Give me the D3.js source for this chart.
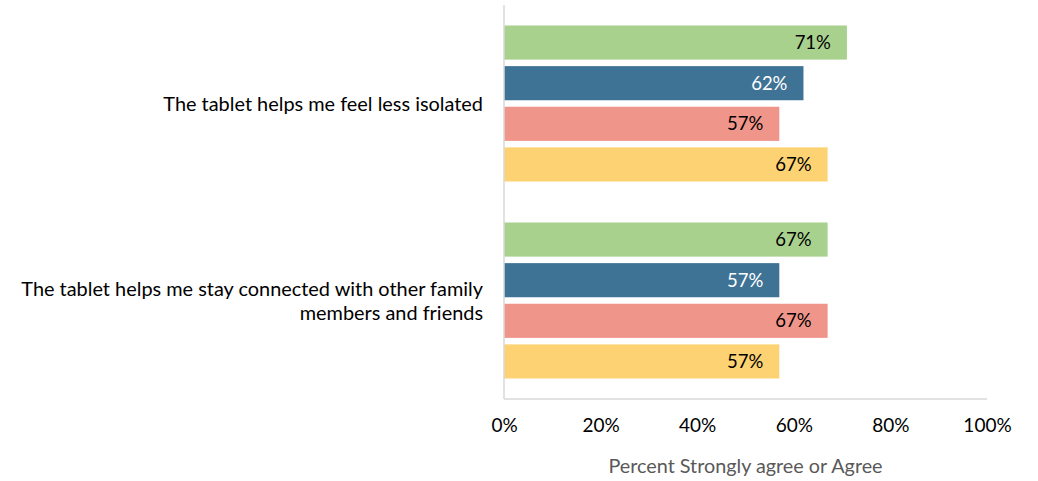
<!DOCTYPE html>
<html><head><meta charset="utf-8">
<script src="https://cdn.jsdelivr.net/npm/d3@7"></script>
<style>body{margin:0;background:#fff;} text{font-family:Lato, "Open Sans", sans-serif;}</style>
</head><body>
<svg id="c" width="1038" height="481"></svg>
<script>
const categories = [
  ["The tablet helps me feel less isolated"],
  ["The tablet helps me stay connected with other family", "members and friends"]
];
const seriesNames = ["S1", "S2", "S3", "S4"];
const seriesColors = ["#a9d18e", "#3f7396", "#f0958a", "#fdd273"];
const labelColors = ["#000", "#fff", "#000", "#000"];
const values = [
  [71, 62, 57, 67],
  [67, 57, 67, 57]
];
const ticks = [0, 20, 40, 60, 80, 100];
const axisTitle = "Percent Strongly agree or Agree";

const svg = d3.select("#c");
const x = d3.scaleLinear().domain([0, 100]).range([504, 987]);
const y0 = d3.scaleBand().domain(d3.range(categories.length)).range([5, 399]).paddingInner(0.208).paddingOuter(0.104);
const y1 = d3.scaleBand().domain(d3.range(seriesNames.length)).range([0, y0.bandwidth()]).paddingInner(0.16);

// bars
categories.forEach((c, ci) => {
  const g = svg.append("g").attr("transform", `translate(0,${y0(ci)})`);
  values[ci].forEach((v, si) => {
    g.append("rect").attr("x", x(0)).attr("y", y1(si)).attr("width", x(v) - x(0)).attr("height", y1.bandwidth())
      .attr("fill", seriesColors[si]);
    g.append("text").attr("x", x(v) - 16).attr("y", y1(si) + y1.bandwidth() / 2).attr("dy", "0.36em")
      .attr("text-anchor", "end").attr("font-size", 18.5).attr("fill", labelColors[si]).text(v + "%");
  });
  const lines = c;
  const cy = y0(ci) + y0.bandwidth() / 2;
  const lh = 24;
  lines.forEach((l, li) => {
    svg.append("text").attr("x", 483).attr("y", cy + (li - (lines.length - 1) / 2) * lh).attr("dy", "0.36em")
      .attr("text-anchor", "end").attr("font-size", 19.9).attr("fill", "#000").text(l);
  });
});

// axes lines
svg.append("line").attr("x1", x(0)).attr("x2", x(0)).attr("y1", 5).attr("y2", 399).attr("stroke", "#d9d9d9").attr("stroke-width", 1.5);
svg.append("line").attr("x1", x(0)).attr("x2", x(100)).attr("y1", 399).attr("y2", 399).attr("stroke", "#d9d9d9").attr("stroke-width", 1.5);

const xa = svg.append("g").attr("transform", "translate(0,399)")
  .call(d3.axisBottom(x).tickValues(ticks).tickFormat(d => d + "%").tickSize(0).tickPadding(20));
xa.select(".domain").remove();
xa.selectAll("text").attr("font-size", 19).attr("fill", "#000").style("font-family", "Lato, 'Open Sans', sans-serif");

svg.append("text").attr("x", (x(0) + x(100)) / 2).attr("y", 466).attr("dy", "0.36em").attr("text-anchor", "middle")
  .attr("font-size", 19.8).attr("fill", "#595959").text(axisTitle);
</script>
</body></html>
